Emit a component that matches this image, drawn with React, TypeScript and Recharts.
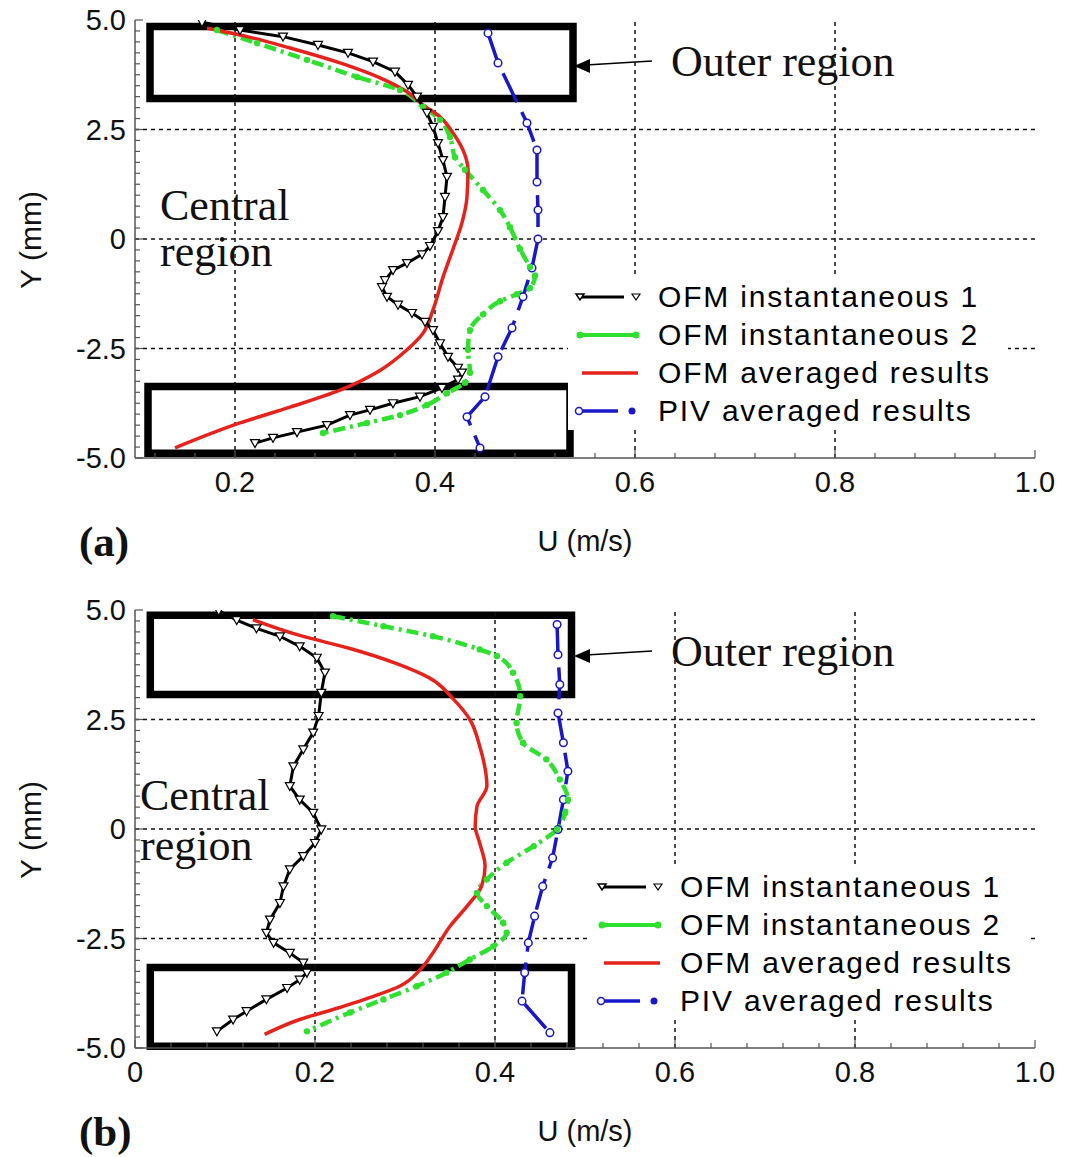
import React from "react";
import { Legend, Line, LineChart, ReferenceArea, ReferenceLine, XAxis, YAxis } from "recharts";

type Pt = { u: number; y: number };

// panel (a): velocity profiles, U (m/s) against Y (mm)
const A_INST1: Pt[] = [
  { u: 0.167, y: 4.95 }, { u: 0.205, y: 4.77 }, { u: 0.248, y: 4.62 }, { u: 0.283, y: 4.43 },
  { u: 0.313, y: 4.25 }, { u: 0.338, y: 4.05 }, { u: 0.36, y: 3.82 }, { u: 0.373, y: 3.52 },
  { u: 0.382, y: 3.25 }, { u: 0.392, y: 2.88 }, { u: 0.398, y: 2.56 }, { u: 0.403, y: 2.19 },
  { u: 0.408, y: 1.8 }, { u: 0.412, y: 1.42 }, { u: 0.41, y: 0.96 }, { u: 0.408, y: 0.5 },
  { u: 0.403, y: 0.18 }, { u: 0.395, y: -0.16 }, { u: 0.387, y: -0.35 }, { u: 0.372, y: -0.55 },
  { u: 0.358, y: -0.71 }, { u: 0.35, y: -0.94 }, { u: 0.347, y: -1.1 }, { u: 0.352, y: -1.32 },
  { u: 0.363, y: -1.5 }, { u: 0.377, y: -1.69 }, { u: 0.39, y: -1.89 }, { u: 0.398, y: -2.08 },
  { u: 0.405, y: -2.38 }, { u: 0.413, y: -2.69 }, { u: 0.423, y: -2.94 }, { u: 0.427, y: -3.05 },
  { u: 0.423, y: -3.21 }, { u: 0.407, y: -3.4 }, { u: 0.385, y: -3.6 }, { u: 0.358, y: -3.75 },
  { u: 0.335, y: -3.9 }, { u: 0.315, y: -4.02 }, { u: 0.292, y: -4.25 }, { u: 0.262, y: -4.41 },
  { u: 0.238, y: -4.54 }, { u: 0.22, y: -4.66 },
];
const A_INST2: Pt[] = [
  { u: 0.182, y: 4.77 }, { u: 0.222, y: 4.47 }, { u: 0.272, y: 4.09 }, { u: 0.322, y: 3.7 },
  { u: 0.365, y: 3.4 }, { u: 0.388, y: 3.02 }, { u: 0.405, y: 2.72 }, { u: 0.415, y: 2.33 },
  { u: 0.42, y: 1.87 }, { u: 0.43, y: 1.58 }, { u: 0.448, y: 1.12 }, { u: 0.465, y: 0.66 },
  { u: 0.475, y: 0.27 }, { u: 0.485, y: -0.23 }, { u: 0.495, y: -0.64 }, { u: 0.5, y: -0.84 },
  { u: 0.495, y: -1.12 }, { u: 0.482, y: -1.26 }, { u: 0.465, y: -1.42 }, { u: 0.448, y: -1.72 },
  { u: 0.435, y: -2.08 }, { u: 0.433, y: -2.53 }, { u: 0.435, y: -3.05 }, { u: 0.43, y: -3.28 },
  { u: 0.412, y: -3.52 }, { u: 0.392, y: -3.79 }, { u: 0.365, y: -4.02 }, { u: 0.332, y: -4.2 },
  { u: 0.288, y: -4.43 },
];
const A_AVG: Pt[] = [
  { u: 0.172, y: 4.81 }, { u: 0.212, y: 4.62 }, { u: 0.255, y: 4.36 }, { u: 0.305, y: 4.02 },
  { u: 0.345, y: 3.68 }, { u: 0.372, y: 3.36 }, { u: 0.388, y: 3.06 }, { u: 0.405, y: 2.79 },
  { u: 0.418, y: 2.42 }, { u: 0.428, y: 2.03 }, { u: 0.433, y: 1.58 }, { u: 0.432, y: 0.96 },
  { u: 0.427, y: 0.37 }, { u: 0.418, y: -0.23 }, { u: 0.408, y: -0.87 }, { u: 0.398, y: -1.62 },
  { u: 0.388, y: -2.15 }, { u: 0.372, y: -2.53 }, { u: 0.345, y: -3.0 }, { u: 0.305, y: -3.45 },
  { u: 0.255, y: -3.84 }, { u: 0.205, y: -4.2 }, { u: 0.14, y: -4.77 },
];
const A_PIV: Pt[] = [
  { u: 0.453, y: 4.7 }, { u: 0.463, y: 4.02 }, { u: 0.492, y: 2.65 }, { u: 0.502, y: 2.03 },
  { u: 0.502, y: 1.3 }, { u: 0.503, y: 0.66 }, { u: 0.503, y: 0.0 }, { u: 0.497, y: -0.66 },
  { u: 0.488, y: -1.32 }, { u: 0.477, y: -2.03 }, { u: 0.463, y: -2.69 }, { u: 0.45, y: -3.6 },
  { u: 0.432, y: -4.06 }, { u: 0.445, y: -4.77 },
];

// panel (b)
const B_INST1: Pt[] = [
  { u: 0.093, y: 4.98 }, { u: 0.113, y: 4.77 }, { u: 0.135, y: 4.58 }, { u: 0.161, y: 4.4 },
  { u: 0.183, y: 4.17 }, { u: 0.202, y: 3.91 }, { u: 0.211, y: 3.57 }, { u: 0.207, y: 3.11 },
  { u: 0.204, y: 2.58 }, { u: 0.198, y: 2.2 }, { u: 0.187, y: 1.82 }, { u: 0.176, y: 1.43 },
  { u: 0.172, y: 0.98 }, { u: 0.183, y: 0.67 }, { u: 0.198, y: 0.37 }, { u: 0.207, y: -0.01 },
  { u: 0.2, y: -0.32 }, { u: 0.187, y: -0.62 }, { u: 0.172, y: -0.92 }, { u: 0.165, y: -1.31 },
  { u: 0.161, y: -1.69 }, { u: 0.15, y: -2.07 }, { u: 0.146, y: -2.37 }, { u: 0.154, y: -2.6 },
  { u: 0.172, y: -2.83 }, { u: 0.187, y: -3.05 }, { u: 0.191, y: -3.28 }, { u: 0.183, y: -3.44 },
  { u: 0.169, y: -3.63 }, { u: 0.146, y: -3.89 }, { u: 0.124, y: -4.16 }, { u: 0.109, y: -4.35 },
  { u: 0.091, y: -4.62 },
];
const B_INST2: Pt[] = [
  { u: 0.22, y: 4.86 }, { u: 0.276, y: 4.63 }, { u: 0.331, y: 4.4 }, { u: 0.383, y: 4.1 },
  { u: 0.402, y: 3.95 }, { u: 0.42, y: 3.57 }, { u: 0.428, y: 3.03 }, { u: 0.424, y: 2.42 },
  { u: 0.431, y: 1.97 }, { u: 0.457, y: 1.59 }, { u: 0.472, y: 1.13 }, { u: 0.481, y: 0.67 },
  { u: 0.478, y: 0.37 }, { u: 0.469, y: -0.01 }, { u: 0.443, y: -0.39 }, { u: 0.413, y: -0.77 },
  { u: 0.391, y: -1.15 }, { u: 0.38, y: -1.46 }, { u: 0.391, y: -1.76 }, { u: 0.409, y: -2.14 },
  { u: 0.413, y: -2.37 }, { u: 0.398, y: -2.68 }, { u: 0.372, y: -2.98 }, { u: 0.346, y: -3.28 },
  { u: 0.313, y: -3.59 }, { u: 0.276, y: -3.89 }, { u: 0.239, y: -4.19 }, { u: 0.191, y: -4.62 },
];
const B_AVG: Pt[] = [
  { u: 0.131, y: 4.78 }, { u: 0.183, y: 4.42 }, { u: 0.239, y: 4.12 }, { u: 0.29, y: 3.78 },
  { u: 0.327, y: 3.45 }, { u: 0.354, y: 2.96 }, { u: 0.372, y: 2.5 }, { u: 0.383, y: 1.89 },
  { u: 0.391, y: 0.98 }, { u: 0.38, y: 0.52 }, { u: 0.378, y: 0.06 }, { u: 0.383, y: -0.32 },
  { u: 0.389, y: -0.85 }, { u: 0.385, y: -1.31 }, { u: 0.369, y: -1.76 }, { u: 0.35, y: -2.22 },
  { u: 0.331, y: -2.83 }, { u: 0.317, y: -3.21 }, { u: 0.294, y: -3.59 }, { u: 0.265, y: -3.82 },
  { u: 0.22, y: -4.12 }, { u: 0.183, y: -4.35 }, { u: 0.144, y: -4.69 },
];
const B_PIV: Pt[] = [
  { u: 0.469, y: 4.67 }, { u: 0.47, y: 3.98 }, { u: 0.472, y: 3.3 }, { u: 0.47, y: 2.65 },
  { u: 0.476, y: 1.97 }, { u: 0.481, y: 1.32 }, { u: 0.476, y: 0.67 }, { u: 0.47, y: -0.01 },
  { u: 0.464, y: -0.66 }, { u: 0.453, y: -1.31 }, { u: 0.444, y: -1.99 }, { u: 0.437, y: -2.6 },
  { u: 0.433, y: -3.28 }, { u: 0.43, y: -3.93 }, { u: 0.461, y: -4.65 },
];

// axes
const A_X_TICKS = [0.12, 0.16, 0.2, 0.24, 0.28, 0.32, 0.36, 0.4, 0.44, 0.48, 0.52, 0.56, 0.6, 0.64, 0.68, 0.72, 0.76, 0.8, 0.84, 0.88, 0.92, 0.96, 1.0];
const A_X_MAJOR = [0.2, 0.4, 0.6, 0.8, 1.0];
const B_X_TICKS = [0, 0.04, 0.08, 0.12, 0.16, 0.2, 0.24, 0.28, 0.32, 0.36, 0.4, 0.44, 0.48, 0.52, 0.56, 0.6, 0.64, 0.68, 0.72, 0.76, 0.8, 0.84, 0.88, 0.92, 0.96, 1.0];
const B_X_MAJOR = [0, 0.2, 0.4, 0.6, 0.8, 1.0];
const Y_TICKS = [-5, -4.75, -4.5, -4.25, -4, -3.75, -3.5, -3.25, -3, -2.75, -2.5, -2.25, -2, -1.75, -1.5, -1.25, -1, -0.75, -0.5, -0.25, 0, 0.25, 0.5, 0.75, 1, 1.25, 1.5, 1.75, 2, 2.25, 2.5, 2.75, 3, 3.25, 3.5, 3.75, 4, 4.25, 4.5, 4.75, 5];
const Y_MAJOR = [-5, -2.5, 0, 2.5, 5];
const GRID_X = [0.2, 0.4, 0.6, 0.8];
const GRID_Y = [-2.5, 0, 2.5];

// "outer region" boxes, in data units
const A_BOXES = [
  { x1: 0.115, x2: 0.538, y1: 3.21, y2: 4.85 },
  { x1: 0.113, x2: 0.535, y1: -4.89, y2: -3.37 },
];
const B_BOXES = [
  { x1: 0.017, x2: 0.485, y1: 3.07, y2: 4.88 },
  { x1: 0.017, x2: 0.485, y1: -4.96, y2: -3.16 },
];

const SERIES = [
  { key: "inst1", name: "OFM instantaneous 1" },
  { key: "inst2", name: "OFM instantaneous 2" },
  { key: "avg", name: "OFM averaged results" },
  { key: "piv", name: "PIV averaged results" },
];

const BLACK = "#000";
const GREEN = "#2fe02f";
const RED = "#e5231c";
const BLUE = "#1818c8";
const AXIS = "#555";
const SANS = '"Liberation Sans", Arial, sans-serif';
const SERIF = '"Liberation Serif", "Times New Roman", serif';

const isMajor = (list: number[], v: number) => list.some((m) => Math.abs(m - v) < 1e-6);
const fmt = (v: number) => (Math.abs(v) < 1e-9 ? "0" : v.toFixed(1));

const bottomTick = (majors: number[]) => (p: any) => {
  const { x, y, payload } = p;
  const major = isMajor(majors, payload.value);
  return (
    <g>
      <line x1={x} x2={x} y1={y} y2={y - (major ? 8 : 5)} stroke={AXIS} strokeWidth={1.2} />
      {major && (
        <text x={x} y={y + 34} textAnchor="middle" fontSize={29} fontFamily={SANS} fill="#111">
          {fmt(payload.value)}
        </text>
      )}
    </g>
  );
};

const topTick = (majors: number[]) => (p: any) => {
  const { x, y, payload } = p;
  const major = isMajor(majors, payload.value);
  return <line x1={x} x2={x} y1={y} y2={y + (major ? 8 : 5)} stroke={AXIS} strokeWidth={1.2} />;
};

const leftTick = (p: any) => {
  const { x, y, payload } = p;
  const major = isMajor(Y_MAJOR, payload.value);
  return (
    <g>
      <line x1={x} x2={x + (major ? 8 : 5)} y1={y} y2={y} stroke={AXIS} strokeWidth={1.2} />
      {major && (
        <text x={x - 9} y={y} dy="0.36em" textAnchor="end" fontSize={29} fontFamily={SANS} fill="#111">
          {fmt(payload.value)}
        </text>
      )}
    </g>
  );
};

const rightTick = (p: any) => {
  const { x, y, payload } = p;
  const major = isMajor(Y_MAJOR, payload.value);
  return <line x1={x} x2={x - (major ? 8 : 5)} y1={y} y2={y} stroke={AXIS} strokeWidth={1.2} />;
};

const triDot = (p: any) => {
  const { cx, cy, index } = p;
  return (
    <path
      key={`t${index}`}
      d={`M${cx - 4.5},${cy - 3.5}L${cx + 4.5},${cy - 3.5}L${cx},${cy + 4.5}Z`}
      fill="#fff"
      stroke={BLACK}
      strokeWidth={1.2}
    />
  );
};

const greenDot = (p: any) => <circle key={`g${p.index}`} cx={p.cx} cy={p.cy} r={3.2} fill={GREEN} />;

const blueDot = (p: any) => (
  <circle key={`b${p.index}`} cx={p.cx} cy={p.cy} r={3.8} fill="#fff" stroke={BLUE} strokeWidth={1.5} />
);

function LegendSymbol({ k }: { k: string }) {
  if (k === "inst1")
    return (
      <g>
        <line x1={12} x2={56} y1={12} y2={12} stroke={BLACK} strokeWidth={3} />
        <path d="M8,9L16,9L12,15Z" fill="#fff" stroke={BLACK} strokeWidth={1.5} />
        <path d="M64,9L72,9L68,15Z" fill="#fff" stroke={BLACK} strokeWidth={1.2} />
      </g>
    );
  if (k === "inst2")
    return (
      <g>
        <line x1={12} x2={68} y1={12} y2={12} stroke={GREEN} strokeWidth={4} />
        <circle cx={12} cy={12} r={3.5} fill={GREEN} />
        <circle cx={68} cy={12} r={3.5} fill={GREEN} />
      </g>
    );
  if (k === "avg") return <line x1={14} x2={70} y1={12} y2={12} stroke={RED} strokeWidth={3.5} />;
  return (
    <g>
      <line x1={12} x2={50} y1={12} y2={12} stroke={BLUE} strokeWidth={3.5} />
      <circle cx={11} cy={12} r={3.5} fill="#fff" stroke={BLUE} strokeWidth={1.5} />
      <circle cx={64} cy={12} r={3.5} fill={BLUE} />
    </g>
  );
}

const renderLegend = () => (
  <div style={{ background: "#fff", fontFamily: SANS }}>
    {SERIES.map((s) => (
      <div key={s.key} style={{ display: "flex", alignItems: "center", height: 38 }}>
        <svg width={90} height={24}>
          <LegendSymbol k={s.key} />
        </svg>
        <span style={{ fontSize: 30, letterSpacing: 1.8, color: "#000", whiteSpace: "nowrap", lineHeight: "38px" }}>
          {s.name}
        </span>
      </div>
    ))}
  </div>
);

type PanelProps = {
  letter: string;
  inst1: Pt[];
  inst2: Pt[];
  avg: Pt[];
  piv: Pt[];
  xDomain: [number, number];
  xTicks: number[];
  xMajor: number[];
  boxes: { x1: number; x2: number; y1: number; y2: number }[];
  legendLeft: number;
  centralX: number;
  regionY: number;
};

function Panel(props: PanelProps) {
  const { letter, inst1, inst2, avg, piv, xDomain, xTicks, xMajor, boxes, legendLeft, centralX, regionY } = props;
  return (
    <div style={{ position: "relative", width: 1071, height: 567 }}>
      <LineChart width={1071} height={567} margin={{ top: 20, right: 36, bottom: 0, left: 0 }}>
        <XAxis
          type="number"
          dataKey="u"
          domain={xDomain}
          allowDataOverflow
          ticks={xTicks}
          interval={0}
          tickSize={0}
          tickMargin={0}
          tickLine={false}
          tick={bottomTick(xMajor)}
          height={109}
          axisLine={{ stroke: AXIS, strokeWidth: 1.5 }}
          label={{ value: "U (m/s)", position: "insideTop", offset: 72, fontSize: 29, fill: "#111", fontFamily: SANS }}
        />
        <XAxis
          xAxisId="top"
          orientation="top"
          type="number"
          dataKey="u"
          domain={xDomain}
          allowDataOverflow
          ticks={xTicks}
          interval={0}
          tickSize={0}
          tickMargin={0}
          tickLine={false}
          tick={topTick(xMajor)}
          height={0}
          axisLine={{ stroke: AXIS, strokeWidth: 1.5 }}
        />
        <YAxis
          type="number"
          domain={[-5, 5]}
          allowDataOverflow
          ticks={Y_TICKS}
          interval={0}
          tickSize={0}
          tickMargin={0}
          tickLine={false}
          tick={leftTick}
          width={135}
          axisLine={{ stroke: AXIS, strokeWidth: 1.5 }}
        />
        <YAxis
          yAxisId="right"
          orientation="right"
          type="number"
          domain={[-5, 5]}
          allowDataOverflow
          ticks={Y_TICKS}
          interval={0}
          tickSize={0}
          tickMargin={0}
          tickLine={false}
          tick={rightTick}
          width={0}
          axisLine={{ stroke: AXIS, strokeWidth: 1.5 }}
        />

        {GRID_X.map((v) => (
          <ReferenceLine key={`gx${v}`} x={v} stroke="#111" strokeWidth={1.5} strokeDasharray="4 4" />
        ))}
        {GRID_Y.map((v) => (
          <ReferenceLine key={`gy${v}`} y={v} stroke="#111" strokeWidth={1.5} strokeDasharray="4 4" />
        ))}

        <Line data={piv} dataKey="y" name={SERIES[3].name} type="linear" stroke={BLUE} strokeWidth={3.5}
          strokeDasharray="32 11" dot={blueDot} isAnimationActive={false} />
        <Line data={inst2} dataKey="y" name={SERIES[1].name} type="monotoneY" stroke={GREEN} strokeWidth={4.5}
          strokeDasharray="12 5 3 5" dot={greenDot} isAnimationActive={false} />
        <Line data={avg} dataKey="y" name={SERIES[2].name} type="monotoneY" stroke={RED} strokeWidth={3.5}
          dot={false} isAnimationActive={false} />
        <Line data={inst1} dataKey="y" name={SERIES[0].name} type="linear" stroke={BLACK} strokeWidth={3}
          dot={triDot} isAnimationActive={false} />

        {boxes.map((b, i) => (
          <ReferenceArea key={`box${i}`} x1={b.x1} x2={b.x2} y1={b.y1} y2={b.y2} fill="none"
            stroke="#000" strokeWidth={7.5} fillOpacity={0} />
        ))}

        <Legend
          layout="vertical"
          align="center"
          verticalAlign="middle"
          content={renderLegend}
          wrapperStyle={{ left: legendLeft, top: 278, width: 440, height: 154 }}
        />
      </LineChart>

      <svg width={1071} height={567} style={{ position: "absolute", left: 0, top: 0, pointerEvents: "none" }}>
        <text x={30} y={240} transform="rotate(-90 30 240)" textAnchor="middle" dominantBaseline="central"
          fontSize={30} fontFamily={SANS} fill="#111">
          Y (mm)
        </text>
        <text x={79} y={556} fontSize={43} fontWeight="bold" fontFamily={SERIF} fill="#111">
          ({letter})
        </text>
        <text x={centralX} y={220} fontSize={44} fontFamily={SERIF} fill="#111">Central</text>
        <text x={centralX} y={regionY} fontSize={44} fontFamily={SERIF} fill="#111">region</text>
        <line x1={652} y1={61} x2={586} y2={65} stroke="#000" strokeWidth={1.5} />
        <polygon points="574,66 590,59 590,73" fill="#000" />
        <text x={671} y={76} fontSize={44} fontFamily={SERIF} fill="#111">Outer region</text>
      </svg>
    </div>
  );
}

export default function App() {
  return (
    <div style={{ position: "absolute", left: 0, top: 0, width: 1071, height: 1157, background: "#fff", fontFamily: SANS }}>
      <div style={{ position: "absolute", left: 0, top: 0 }}>
        <Panel letter="a" inst1={A_INST1} inst2={A_INST2} avg={A_AVG} piv={A_PIV} xDomain={[0.1, 1.0]}
          xTicks={A_X_TICKS} xMajor={A_X_MAJOR} boxes={A_BOXES} legendLeft={568} centralX={160} regionY={266} />
      </div>
      <div style={{ position: "absolute", left: 0, top: 590 }}>
        <Panel letter="b" inst1={B_INST1} inst2={B_INST2} avg={B_AVG} piv={B_PIV} xDomain={[0, 1.0]}
          xTicks={B_X_TICKS} xMajor={B_X_MAJOR} boxes={B_BOXES} legendLeft={590} centralX={140} regionY={270} />
      </div>
    </div>
  );
}
